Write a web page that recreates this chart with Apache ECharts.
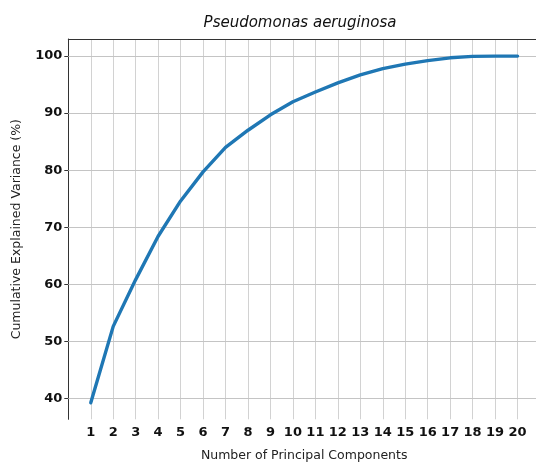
<!DOCTYPE html>
<html>
<head>
<meta charset="utf-8">
<script src="https://cdn.jsdelivr.net/npm/echarts@6/dist/echarts.min.js"></script>
<style>html,body{margin:0;padding:0;background:#fff}#c{width:536px;height:464px}</style>
</head>
<body>
<div id="c"></div>
<script>
const components = [1,2,3,4,5,6,7,8,9,10,11,12,13,14,15,16,17,18,19,20];
const cumulativeVariance = [39.2,52.6,60.8,68.4,74.6,79.7,84.0,87.0,89.7,92.0,93.7,95.3,96.7,97.8,98.6,99.2,99.7,99.95,100.0,100.0];
const yTickValues = [40,50,60,70,80,90,100];
const titleText = 'Pseudomonas aeruginosa';
const xName = 'Number of Principal Components';
const yName = 'Cumulative Explained Variance (%)';

const chart = echarts.init(document.getElementById('c'), null, {renderer:'canvas'});
const FONT = 'DejaVu Sans';
chart.setOption({
  animation:false,
  backgroundColor:'#fff',
  title:{text:titleText,left:295,top:11,textAlign:'center',
    textStyle:{fontFamily:FONT,fontStyle:'italic',fontWeight:'normal',fontSize:15,color:'#111'}},
  grid:{left:68.3,top:39,width:471.7,height:380.3,containLabel:false,outerBoundsMode:'none'},
  xAxis:[{
    type:'value',min:0,max:21,interval:1,position:'bottom',
    axisLine:{show:false},axisTick:{show:false},
    axisLabel:{margin:7,fontFamily:FONT,fontWeight:'bold',fontSize:13,color:'#111',
      formatter:v=>(components.indexOf(v)>=0?String(v):'')},
    splitLine:{show:true,lineStyle:{color:'#d2d2d2',width:1}},
    name:xName,nameLocation:'middle',nameGap:30,
    nameTextStyle:{fontFamily:FONT,fontSize:12.5,color:'#222'}
  },{
    type:'value',min:0,max:21,position:'top',
    axisLine:{show:true,lineStyle:{color:'#333',width:1}},
    axisTick:{show:false},axisLabel:{show:false},splitLine:{show:false}
  }],
  yAxis:{
    type:'value',min:36.3,max:103,
    axisLine:{show:true,lineStyle:{color:'#333',width:1}},
    axisTick:{show:true,length:4,customValues:yTickValues,lineStyle:{color:'#333'}},
    axisLabel:{margin:6,customValues:yTickValues,fontFamily:FONT,fontWeight:'bold',fontSize:13,color:'#111'},
    splitLine:{show:false},
    name:yName,nameLocation:'middle',nameGap:45,
    nameTextStyle:{fontFamily:FONT,fontSize:12.5,color:'#222'}
  },
  series:[{
    type:'line',data:[],z:1,silent:true,
    markLine:{silent:true,symbol:'none',label:{show:false},animation:false,z:1,
      lineStyle:{color:'#c4c4c4',width:1,type:'solid'},
      data:yTickValues.map(v=>({yAxis:v}))}
  },{
    type:'line',z:5,
    data:components.map((c,i)=>[c,cumulativeVariance[i]]),
    showSymbol:false,smooth:false,
    lineStyle:{color:'#1f77b4',width:3.4,cap:'round',join:'round'}
  }]
});
</script>
</body>
</html>
